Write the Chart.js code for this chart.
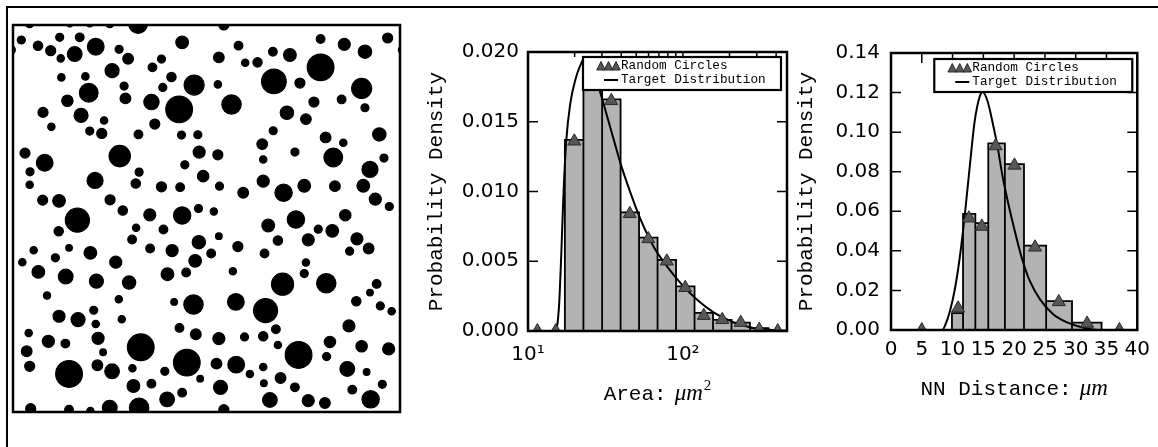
<!DOCTYPE html>
<html>
<head>
<meta charset="utf-8">
<script src="https://cdn.jsdelivr.net/npm/chart.js@4.4.1/dist/chart.umd.min.js"></script>
<style>
    body { margin: 0; background: #fff; width: 1158px; height: 447px; overflow: hidden; position: relative; }
    #edge { position: absolute; left: 6px; top: 6px; width: 1200px; height: 500px; border-top: 2px solid #000; border-left: 2px solid #000; }
    canvas { position: absolute; }
</style>
</head>
<body>
<div id="edge"></div>
<canvas id="circles" width="391" height="391" style="left:11px;top:23px"></canvas>
<canvas id="areaChart" width="380" height="400" style="left:420px;top:30px"></canvas>
<canvas id="nnChart" width="368" height="400" style="left:790px;top:30px"></canvas>
<script>
"use strict"

// *** circle field (centre x, centre y, radius, same units) *** //
const circleX = [
    5.0, 17.0, 23.0, 29.0, 37.5, 63.2, -0.6, 116.7, 5.3, 16.8, 23.2, 29.0, 37.8, 63.2,
    2.5, 7.5, 11.3, 14.0, 20.0, 14.3, 18.5, 24.8, 31.8, 34.5,
    50.7, 44.5, 41.8, 29.7, 14.5, 21.7, 22.7, 33.3, 33.7, 16.3,
    9.0, 20.4, 27.3, 11.5, 23.0, 26.6, 37.6, 41.5, 44.9, 47.5,
    54.3, 49.8, 42.5, 50.5, 55.4, 61.4, 65.5, 67.6, 61.7, 69.6,
    73.3, 77.9, 83.0, 78.2, 92.2, 86.0, 92.2, 99.3, 105.5, 112.3,
    104.5, 98.5, 105.5, 90.2, 82.1, 87.8, 78.0, 74.7, 84.5, 93.7,
    99.0, 109.8, 96.0, 111.2, 107.0, 105.0, 108.6, 112.8, 96.5, 87.3,
    81.1, 75.0, 75.0, 69.0, 61.9, 61.4, 55.8, 51.5, 57.0, 50.1,
    44.5, 37.8, 36.8, 32.0, 9.5, 3.6, 5.1, 5.0, 24.6, 8.9,
    13.8, 29.1, 32.9, 19.3, 13.7, 41.0, 50.7, 55.6, 60.2, 36.9,
    45.1, 35.7, 41.1, 47.7, 55.7, 61.7, 59.4, 54.6, 46.3, 51.9,
    67.4, 65.9, 75.4, 76.5, 79.4, 84.8, 91.5, 95.7, 88.5, 99.6,
    103.1, 100.9, 106.6, 87.8, 87.3, 80.8, 93.9, 109.0, 107.0, 102.9,
    110.1, 113.5, 100.7, 75.7, 66.8, 54.1, 48.3, 78.8, 75.0, 69.4,
    61.7, 54.8, 49.9, 79.4, 85.6, 95.0, 94.0, 104.5, 112.6, 100.2,
    106.0, 110.7, 101.7, 107.2, 93.5, 88.5, 84.5, 80.2, 77.0, 75.2,
    75.0, 71.0, 66.9, 61.0, 62.2, 52.1, 56.1, 50.7, 46.2, 45.5,
    41.5, 36.1, 35.8, 38.3, 29.7, 25.3, 27.0, 25.5, 24.8, 24.2,
    32.6, 31.7, 19.5, 13.8, 10.2, 4.7, 10.6, 15.7, 4.1, 5.0,
    16.8, 2.8, 6.2, 7.6, 12.7, 15.8, 16.8, 23.2, 25.0, 30.8,
    34.8
];
const circleY = [
    116.4, 116.5, 116.5, 116.4, 116.3, 116.0, 108.5, 108.5, 1.0, 0.7, 0.3, 1.3, 1.3, 0.7,
    111.5, 109.8, 108.3, 112.3, 112.3, 106.0, 107.3, 109.5, 108.7, 105.9,
    110.8, 105.8, 103.3, 102.3, 100.3, 100.6, 95.7, 97.7, 94.0, 93.3,
    89.8, 88.9, 87.4, 85.5, 84.2, 83.5, 83.2, 92.9, 97.3, 100.4,
    98.0, 90.7, 86.3, 83.0, 83.1, 98.2, 92.2, 109.8, 106.3, 104.7,
    104.8, 108.0, 107.0, 99.1, 103.3, 98.6, 111.8, 110.2, 108.0, 112.1,
    97.0, 93.7, 91.2, 92.9, 89.7, 87.8, 84.3, 80.3, 77.9, 82.3,
    80.7, 83.2, 76.3, 76.1, 72.7, 67.8, 63.8, 61.6, 67.7, 67.8,
    65.7, 75.7, 69.2, 65.7, 67.7, 77.1, 77.9, 74.1, 70.7, 67.4,
    67.5, 71.9, 68.5, 76.7, 74.7, 77.6, 72.0, 68.1, 69.4, 63.5,
    63.3, 63.6, 60.4, 57.5, 54.2, 59.1, 58.9, 61.0, 60.1, 55.2,
    54.7, 51.7, 49.0, 48.4, 50.9, 52.7, 47.5, 45.3, 41.3, 41.8,
    49.6, 42.2, 47.5, 55.9, 51.4, 57.7, 54.8, 54.3, 51.6, 59.0,
    51.9, 48.2, 49.0, 44.8, 41.5, 38.3, 38.6, 38.4, 35.8, 33.2,
    31.8, 30.2, 25.8, 30.4, 33.0, 32.2, 33.0, 24.8, 22.7, 22.5,
    22.0, 23.3, 25.2, 20.1, 17.1, 21.0, 16.6, 19.7, 18.9, 12.9,
    12.0, 8.3, 6.7, 3.8, 2.7, 3.4, 7.4, 10.2, 3.6, 8.6,
    13.5, 11.4, 14.2, 14.5, 7.4, 14.8, 10.0, 5.8, 3.8, 12.2,
    8.5, 7.8, 13.1, 19.4, 12.2, 14.0, 17.9, 22.1, 26.4, 30.5,
    27.8, 33.8, 27.7, 28.7, 34.9, 23.7, 21.2, 20.5, 18.2, 13.7,
    11.4, 44.9, 48.5, 42.0, 46.2, 40.6, 49.2, 47.7, 39.2, 44.9,
    38.8
];
const circleR = [
    1.2, 1.1, 1.1, 1.2, 2.8, 1.5, 1.3, 1.2, 1.5, 1.3, 1.1, 2.2, 2.9, 1.5,
    1.2, 1.4, 1.5, 1.2, 1.3, 1.1, 2.2, 2.5, 1.2, 1.6,
    1.9, 1.2, 1.3, 2.1, 1.1, 1.1, 2.8, 1.2, 1.6, 1.7,
    1.5, 2.1, 1.1, 1.1, 1.2, 1.5, 1.3, 2.3, 1.2, 1.4,
    3.0, 4.0, 1.5, 1.2, 1.2, 1.1, 2.9, 1.3, 1.6, 1.1,
    1.4, 1.3, 1.9, 3.7, 4.0, 1.5, 1.3, 1.8, 2.0, 1.5,
    3.0, 1.3, 1.2, 1.5, 2.0, 1.6, 1.2, 1.6, 1.2, 1.6,
    1.1, 2.0, 2.8, 1.2, 2.4, 1.9, 1.8, 1.2, 1.6, 1.9,
    2.6, 1.1, 1.8, 1.6, 1.2, 1.5, 1.8, 1.2, 1.7, 1.3,
    1.5, 1.2, 1.4, 3.2, 2.5, 1.5, 1.2, 1.1, 2.4, 1.5,
    1.9, 1.5, 1.4, 3.6, 1.4, 1.8, 2.6, 1.2, 1.1, 1.1,
    1.3, 1.3, 1.3, 1.8, 2.0, 1.0, 1.3, 1.9, 1.9, 1.3,
    1.5, 1.1, 1.3, 1.9, 1.4, 2.6, 1.2, 1.9, 1.8, 1.7,
    1.8, 1.2, 1.6, 1.1, 1.2, 3.3, 2.9, 1.3, 1.0, 1.4,
    1.2, 1.1, 1.8, 3.6, 2.5, 2.9, 1.0, 1.3, 1.4, 1.2,
    1.8, 1.6, 1.3, 1.1, 4.0, 1.7, 1.2, 1.7, 1.8, 2.2,
    1.0, 1.2, 1.3, 2.6, 1.6, 1.8, 1.3, 1.6, 2.2, 1.0,
    1.1, 1.1, 2.5, 1.6, 2.1, 4.0, 1.0, 1.3, 2.2, 1.2,
    1.3, 1.9, 1.1, 4.0, 2.2, 1.6, 1.0, 1.8, 1.1, 1.2,
    1.1, 1.1, 2.1, 1.8, 1.1, 1.1, 1.8, 1.3, 1.6, 1.5,
    4.0, 1.1, 1.1, 1.9, 1.2, 2.2, 1.0, 1.9, 2.1, 1.8,
    2.0
];
const fieldSize = 116;

// *** area histogram (log bins) *** //
const areaEdges = [10, 13.2, 17.3, 22.8, 30.1, 39.6, 52.1, 68.6, 90.3, 118.9, 156.5, 206, 271, 357, 470];
const areaDensity = [0, 0, 0.0137, 0.0183, 0.0166, 0.0085, 0.0067, 0.0051, 0.0032, 0.0013, 0.0008, 0.0006, 0.0002, 0];
const areaMarkerX = [11.5, 15.1, 19.9, 26.2, 34.5, 45.4, 59.8, 78.7, 103.6, 136.4, 179.6, 236.3, 311, 409.6];
const areaMarkerY = [0, 0, 0.0136, 0.0183, 0.0165, 0.0084, 0.0066, 0.005, 0.0031, 0.0011, 0.0008, 0.0006, 0.0001, 0];
const areaCurveX = [10, 15, 15.4, 15.9, 16.4, 16.9, 17.65, 18.75, 20.2, 21.7, 23.4, 26, 28.9, 32.4, 35.8, 39.6, 45.9, 53.3, 65, 79.4, 97.2, 124.6, 159.6, 215, 290, 390, 470];
const areaCurveY = [0, 0, 0.0003, 0.002, 0.0055, 0.0095, 0.0136, 0.0163, 0.018, 0.019, 0.0196, 0.0188, 0.0173, 0.0154, 0.0137, 0.012, 0.0099, 0.008, 0.006, 0.0046, 0.0034, 0.0022, 0.0013, 0.0006, 0.0002, 0.00007, 0.00003];
const areaTicks = { 10: "10¹", 100: "10²" };

// *** nearest neighbour histogram *** //
const nnEdges = [9.9, 11.7, 13.7, 15.8, 18.5, 21.6, 25.2, 29.4, 34.2];
const nnDensity = [0.0085, 0.0587, 0.054, 0.0943, 0.0838, 0.0426, 0.0146, 0.0037];
const nnMarkerX = [5.0, 10.9, 12.65, 14.75, 17.0, 20.05, 23.4, 27.25, 31.85, 37.1];
const nnMarkerY = [0, 0.011, 0.0565, 0.0523, 0.093, 0.0832, 0.0418, 0.0142, 0.0033, 0];
const nnCurveX = [0, 8.3, 8.8, 9.6, 10.4, 11.2, 12.0, 12.8, 13.6, 14.4, 14.9, 15.7, 16.5, 17.3, 18.1, 18.9, 19.95, 21.3, 22.6, 24.2, 26.3, 28.4, 31.1, 34.2, 40];
const nnCurveY = [0, 0, 0.0024, 0.0098, 0.0211, 0.0374, 0.0585, 0.0829, 0.1057, 0.1179, 0.1203, 0.1155, 0.1049, 0.0927, 0.078, 0.066, 0.052, 0.0358, 0.0244, 0.0155, 0.0081, 0.0041, 0.0013, 0, 0];

const BAR_FILL = "#b3b3b3", MARK_FILL = "#575757", MARK_EDGE = "#2a2a2a";

Chart.defaults.font.family = "DejaVu Sans";
Chart.defaults.color = "#000";
Chart.defaults.animation = false;
Chart.defaults.events = [];
Chart.defaults.plugins.legend.display = false;
Chart.defaults.plugins.tooltip.enabled = false;

function points(xs, ys) {
    return xs.map((x, i) => ({ x: x, y: ys[i] }));
}

// outline of touching bars: up, across, down for every non empty bin
function histPath(edges, dens) {
    let pts = [];
    dens.forEach((h, i) => {
        if (h <= 0)
            return;
        pts.push({ x: edges[i], y: 0 }, { x: edges[i], y: h }, { x: edges[i + 1], y: h }, { x: edges[i + 1], y: 0 });
    });
    return pts;
}

// box round the plot area, ticks pointing inwards on left, right and top
function frame(width, withTicks) {
    return {
        id: "frame",
        afterDatasetsDraw(chart) {
            let ctx = chart.ctx, a = chart.chartArea;
            ctx.save();
            ctx.strokeStyle = "#000";
            if (withTicks) {
                let sx = chart.scales.x, sy = chart.scales.y;
                ctx.lineWidth = 1.5;
                ctx.beginPath();
                for (let t of sy.ticks) {
                    let py = sy.getPixelForValue(t.value);
                    ctx.moveTo(a.left, py); ctx.lineTo(a.left + 10, py);
                    ctx.moveTo(a.right, py); ctx.lineTo(a.right - 10, py);
                }
                for (let t of sx.ticks) {
                    let len = 10;
                    if (sx.type === "logarithmic") {
                        let m = t.value / Math.pow(10, Math.floor(Math.log10(t.value) + 1e-9));
                        if (Math.abs(m - Math.round(m)) > 1e-6)
                            continue;
                        len = Math.round(m) === 1 ? 10 : 5;
                    }
                    let px = sx.getPixelForValue(t.value);
                    ctx.moveTo(px, a.top); ctx.lineTo(px, a.top + len);
                }
                ctx.stroke();
            }
            ctx.lineWidth = width;
            ctx.strokeRect(a.left, a.top, a.right - a.left, a.bottom - a.top);
            ctx.restore();
        }
    };
}

// legend box with three triangles and a line sample
function boxLegend(insetRight, insetTop) {
    return {
        id: "boxLegend",
        afterDraw(chart) {
            let ctx = chart.ctx, a = chart.chartArea;
            let sets = chart.data.datasets;
            let w = 198, h = 33;
            let left = a.right - insetRight - w, top = a.top + insetTop;
            ctx.save();
            ctx.fillStyle = "#fff";
            ctx.fillRect(left, top, w, h);
            ctx.lineWidth = 2.2;
            ctx.strokeStyle = "#000";
            ctx.strokeRect(left, top, w, h);
            ctx.fillStyle = sets[0].backgroundColor;
            ctx.strokeStyle = sets[0].borderColor;
            ctx.lineWidth = 1;
            for (let k = 0; k < 3; k++) {
                let cx = left + 18 + k * 7.5, cy = top + 9.5;
                ctx.beginPath();
                ctx.moveTo(cx, cy - 5);
                ctx.lineTo(cx + 4.3, cy + 3.5);
                ctx.lineTo(cx - 4.3, cy + 3.5);
                ctx.closePath();
                ctx.fill();
                ctx.stroke();
            }
            ctx.strokeStyle = "#000";
            ctx.lineWidth = 2;
            ctx.beginPath();
            ctx.moveTo(left + 21, top + 23);
            ctx.lineTo(left + 35, top + 23);
            ctx.stroke();
            ctx.fillStyle = "#000";
            ctx.font = "12.7px 'Liberation Mono'";
            ctx.textBaseline = "middle";
            ctx.fillText(sets[0].label, left + 38, top + 9);
            ctx.fillText(sets[1].label, left + 38, top + 23);
            ctx.restore();
        }
    };
}

// x axis caption mixing typewriter text and italic units
function mathTitle(parts, offset) {
    return {
        id: "mathTitle",
        afterDraw(chart) {
            let ctx = chart.ctx, a = chart.chartArea;
            ctx.save();
            ctx.fillStyle = "#000";
            ctx.textBaseline = "alphabetic";
            let total = 0;
            for (let p of parts) {
                ctx.font = p.font;
                p.w = ctx.measureText(p.text).width;
                total += p.w + (p.gap || 0);
            }
            let x = (a.left + a.right) / 2 - total / 2;
            for (let p of parts) {
                x += p.gap || 0;
                ctx.font = p.font;
                ctx.fillText(p.text, x, a.bottom + offset - (p.rise || 0));
                x += p.w;
            }
            ctx.restore();
        }
    };
}

function yAxis(max, step, digits, width, pad) {
    return {
        min: 0,
        max: max,
        grid: { display: false, drawTicks: false },
        border: { display: false },
        ticks: { stepSize: step, padding: pad, font: { size: 20 }, callback: v => v.toFixed(digits) },
        title: { display: true, text: "Probability Density", font: { family: "Liberation Mono", size: 21 }, padding: { top: 4, bottom: 0 } },
        afterFit: s => { s.width = width; }
    };
}

function histSets(markX, markY, curveX, curveY, edges, dens) {
    return [
        {
            label: "Random Circles",
            data: points(markX, markY),
            showLine: false,
            pointStyle: "triangle",
            pointRadius: 7.5,
            backgroundColor: MARK_FILL,
            borderColor: MARK_EDGE,
            borderWidth: 1,
            clip: 0,
            order: 0
        },
        {
            label: "Target Distribution",
            data: points(curveX, curveY),
            pointRadius: 0,
            borderColor: "#000",
            borderWidth: 2,
            tension: 0.4,
            cubicInterpolationMode: "monotone",
            fill: false,
            clip: 0,
            order: 1
        },
        {
            label: "bins",
            data: histPath(edges, dens),
            pointRadius: 0,
            borderColor: "#000",
            borderWidth: 1.8,
            backgroundColor: BAR_FILL,
            fill: "origin",
            tension: 0,
            clip: 0,
            order: 2
        }
    ];
}

// *** circles *** //
new Chart(document.getElementById("circles"), {
    type: "scatter",
    data: {
        datasets: [{
            data: points(circleX, circleY),
            pointStyle: "circle",
            pointRadius: c => {
                let s = c.chart.scales.x;
                return s.getPixelForValue(circleR[c.dataIndex]) - s.getPixelForValue(0);
            },
            backgroundColor: "#000",
            borderColor: "#000",
            borderWidth: 1.2,
            clip: 0
        }]
    },
    options: {
        responsive: false,
        layout: { padding: 2 },
        scales: {
            x: { type: "linear", min: 0, max: fieldSize, display: false },
            y: { type: "linear", min: 0, max: fieldSize, display: false }
        }
    },
    plugins: [frame(2.5, false)]
});

// *** area *** //
new Chart(document.getElementById("areaChart"), {
    type: "line",
    data: { datasets: histSets(areaMarkerX, areaMarkerY, areaCurveX, areaCurveY, areaEdges, areaDensity) },
    options: {
        responsive: false,
        layout: { padding: { left: 0, right: 13, top: 22, bottom: 0 } },
        scales: {
            x: {
                type: "logarithmic",
                min: 10,
                max: 470,
                grid: { display: false, drawTicks: false },
                border: { display: false },
                ticks: { autoSkip: false, maxRotation: 0, padding: 12, font: { size: 20 }, callback: v => areaTicks[v] || "" },
                afterFit: s => { s.height = 99; }
            },
            y: yAxis(0.02, 0.005, 3, 108, 9)
        }
    },
    plugins: [
        frame(2.5, true),
        mathTitle([
            { text: "Area:", font: "21px 'Liberation Mono'" },
            { text: "μm", font: "italic 23px 'Liberation Serif'", gap: 8 },
            { text: "2", font: "15px 'Liberation Serif'", gap: 1, rise: 10 }
        ], 69),
        boxLegend(6, 5)
    ]
});

// *** nearest neighbour distance *** //
new Chart(document.getElementById("nnChart"), {
    type: "line",
    data: { datasets: histSets(nnMarkerX, nnMarkerY, nnCurveX, nnCurveY, nnEdges, nnDensity) },
    options: {
        responsive: false,
        layout: { padding: { left: 0, right: 15, top: 13, bottom: 0 } },
        scales: {
            x: {
                type: "linear",
                min: 0,
                max: 40,
                grid: { display: false, drawTicks: false },
                border: { display: false },
                ticks: { stepSize: 5, autoSkip: false, maxRotation: 0, padding: 8, font: { size: 20 } },
                afterFit: s => { s.height = 100; }
            },
            y: yAxis(0.14, 0.02, 2, 101, 11)
        }
    },
    plugins: [
        frame(2.5, true),
        mathTitle([
            { text: "NN Distance:", font: "21px 'Liberation Mono'" },
            { text: "μm", font: "italic 23px 'Liberation Serif'", gap: 8 }
        ], 65),
        boxLegend(5, 6)
    ]
});
</script>
</body>
</html>
